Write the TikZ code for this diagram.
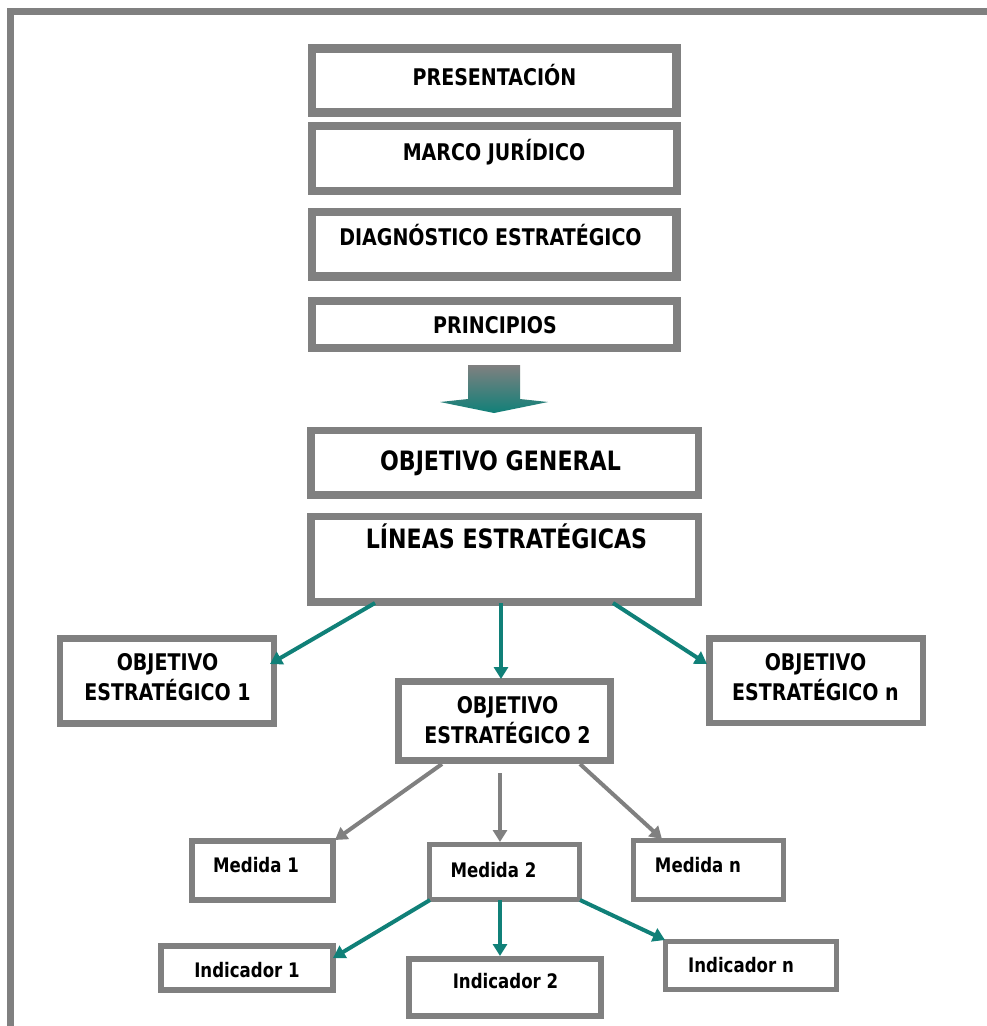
\documentclass[tikz,border=0pt]{standalone}
\usepackage{fontspec}
\setmainfont{DejaVu Sans}
\newfontfamily\tah[FakeStretch=0.83]{DejaVu Sans}
\usetikzlibrary{arrows.meta,calc}
\definecolor{boxgray}{HTML}{808080}
\definecolor{tealc}{HTML}{108078}
\newdimen\pxu \pxu=0.75pt
\tikzset{
  box/.style={draw=boxgray, rectangle, inner sep=0pt, fill=white},
  bigtxt/.style={font=\tah\bfseries\fontsize{17.2}{22.5}\selectfont, anchor=base, inner sep=0pt},
  hugetxt/.style={font=\tah\bfseries\fontsize{20}{24}\selectfont, anchor=base, inner sep=0pt},
  smalltxt/.style={font=\tah\bfseries\fontsize{15}{18}\selectfont, anchor=base, inner sep=0pt},
  tconn/.style={draw=tealc, line width=3pt, -{Triangle[length=9pt,width=10.5pt]}},
  gconn/.style={draw=boxgray, line width=3pt, -{Triangle[length=9pt,width=10.5pt]}},
}
\begin{document}
\begin{tikzpicture}[x=0.75pt,y=-0.75pt]
\useasboundingbox (0,0) rectangle (987,1026);
\clip (0,0) rectangle (987,1026);
\fill[white] (0,0) rectangle (987,1026);
\draw[boxgray, line width=7.5\pxu] (10.5,11.5) rectangle (1100,1100);

% boxes
\node[box, line width=8.5\pxu, minimum width=364.5\pxu, minimum height=64\pxu] (pres) at (494.25,80.5) {};
\node[box, line width=8\pxu, minimum width=364.5\pxu, minimum height=64.5\pxu] (marco) at (494.25,158.25) {};
\node[box, line width=8.5\pxu, minimum width=364.5\pxu, minimum height=64.5\pxu] (diag) at (494.25,244.25) {};
\node[box, line width=8\pxu, minimum width=364.5\pxu, minimum height=47\pxu] (princ) at (494.25,324.5) {};
\node[box, line width=7.5\pxu, minimum width=387.5\pxu, minimum height=64.5\pxu] (gen) at (504.75,462.75) {};
\node[box, line width=7.5\pxu, minimum width=387.5\pxu, minimum height=85.5\pxu] (lin) at (504.75,559.25) {};
\node[box, line width=6.5\pxu, minimum width=214\pxu, minimum height=85\pxu] (o1) at (167,681) {};
\node[box, line width=6.5\pxu, minimum width=213.5\pxu, minimum height=84.5\pxu] (on) at (816.25,680.75) {};
\node[box, line width=7\pxu, minimum width=211.5\pxu, minimum height=79\pxu] (o2) at (504.25,721) {};
\node[box, line width=6\pxu, minimum width=141\pxu, minimum height=59\pxu] (m1) at (262.5,870.5) {};
\node[box, line width=5.5\pxu, minimum width=150\pxu, minimum height=55\pxu] (m2) at (504.5,872) {};
\node[box, line width=5.5\pxu, minimum width=150\pxu, minimum height=59\pxu] (mn) at (708.5,870) {};
\node[box, line width=6\pxu, minimum width=172\pxu, minimum height=43.5\pxu] (i1) at (247,967.75) {};
\node[box, line width=6\pxu, minimum width=192\pxu, minimum height=56.5\pxu] (i2) at (505,987.25) {};
\node[box, line width=5\pxu, minimum width=171\pxu, minimum height=48\pxu] (in) at (751,965.5) {};

% texts
\node[bigtxt] (pres-t) at (494.5,85) {PRESENTACIÓN};
\node[bigtxt] (marco-t) at (494,160) {MARCO JURÍDICO};
\node[bigtxt] (diag-t) at (490.5,245) {DIAGNÓSTICO ESTRATÉGICO};
\node[bigtxt] (princ-t) at (495,333) {PRINCIPIOS};
\node[hugetxt] (gen-t) at (500.5,470) {OBJETIVO GENERAL};
\node[hugetxt] (lin-t) at (506.5,548) {LÍNEAS ESTRATÉGICAS};
\node[bigtxt] (o1-t) at (167.5,670) {\begin{tabular}[t]{@{}c@{}}OBJETIVO\\ESTRATÉGICO 1\end{tabular}};
\node[bigtxt] (on-t) at (815.5,670) {\begin{tabular}[t]{@{}c@{}}OBJETIVO\\ESTRATÉGICO n\end{tabular}};
\node[bigtxt] (o2-t) at (507.5,713) {\begin{tabular}[t]{@{}c@{}}OBJETIVO\\ESTRATÉGICO 2\end{tabular}};
\node[smalltxt] (m1-t) at (256,872) {Medida 1};
\node[smalltxt] (m2-t) at (493.5,877) {Medida 2};
\node[smalltxt] (mn-t) at (698,872) {Medida n};
\node[smalltxt] (i1-t) at (247,977) {Indicador 1};
\node[smalltxt] (i2-t) at (505.5,988) {Indicador 2};
\node[smalltxt] (in-t) at (741,972) {Indicador n};

% big arrow
\shade[top color=boxgray, bottom color=tealc] (468,365) -- (520,365) -- (520,399) -- (548,402) -- (494,413) -- (440,402) -- (468,399) -- cycle;

% connectors
\draw[tconn] ($(lin)+(-129.75,43.75)$) -- ($(o1)+(103,-17)$);
\draw[tconn] ($(lin)+(-3.75,43.75)$) -- ($(o2)+(-3.25,-42)$);
\draw[tconn] ($(lin)+(108.25,43.75)$) -- ($(on)+(-109.25,-16.75)$);
\draw[gconn] ($(o2)+(-62.25,43)$) -- ($(m1)+(72.5,-30.5)$);
\draw[gconn] ($(o2)+(-4.25,52)$) -- ($(m2)+(-4.5,-30)$);
\draw[gconn] ($(o2)+(75.75,43)$) -- ($(mn)+(-46.5,-31)$);
\draw[tconn] ($(m2)+(-74.5,28)$) -- ($(i1)+(86,-9.75)$);
\draw[tconn] ($(m2)+(-4.5,28)$) -- ($(i2)+(-5,-31.25)$);
\draw[tconn] ($(m2)+(75.5,28)$) -- ($(in)+(-86,-25.5)$);
\end{tikzpicture}
\end{document}
